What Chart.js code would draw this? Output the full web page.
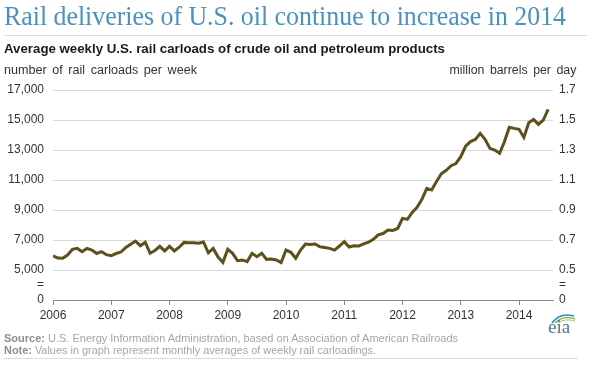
<!DOCTYPE html>
<html>
<head>
<meta charset="utf-8">
<script src="https://cdn.jsdelivr.net/npm/chart.js@4.4.1/dist/chart.umd.min.js"></script>
<style>
  html, body { margin: 0; padding: 0; background: #fff; }
  #wrap { position: relative; width: 598px; height: 376px; overflow: hidden; font-family: "Liberation Sans", Arial, sans-serif; }
  canvas { position: absolute; left: 0; top: 0; }
  .t { position: absolute; white-space: nowrap; line-height: 1; display: inline-block; transform-origin: left center; }
  #title { left: 4px; top: 3px; font-family: "Liberation Serif", "Times New Roman", serif; font-size: 26.5px; color: #4a92bd; }
  #subtitle { left: 4px; top: 43px; font-size: 12px; font-weight: bold; color: #1a1a1a; }
  #unitL { left: 4px; top: 64px; font-size: 12px; color: #333; word-spacing: 2px; }
  #unitR { right: 22px; top: 64px; font-size: 12px; color: #333; transform-origin: right center; word-spacing: 2px; }
  #source { left: 4px; top: 333px; font-size: 11px; color: #a5a5a5; }
  #note { left: 4px; top: 345px; font-size: 11px; color: #a5a5a5; }
  #source b, #note b { color: #8e8e8e; }
  .rule { position: absolute; height: 1px; background: #dcdcdc; }
  #logo { position: absolute; left: 546px; top: 311px; width: 32px; height: 24px; }
  #logoText { position: absolute; left: 2px; top: 6px; font-family: "Liberation Serif", serif; font-size: 19px; color: #4e7d98; line-height: 1; }
</style>
</head>
<body>
<div id="wrap">
  <canvas id="c" width="598" height="376"></canvas>
  <div class="t" id="title">Rail deliveries of U.S. oil continue to increase in 2014</div>
  <div class="rule" style="left:4px; top:35px; width:583px;"></div>
  <div class="t" id="subtitle">Average weekly U.S. rail carloads of crude oil and petroleum products</div>
  <div class="t" id="unitL">number of rail carloads per week</div>
  <div class="t" id="unitR">million barrels per day</div>
  <div class="t" id="source"><b>Source:</b> U.S. Energy Information Administration, based on Association of American Railroads</div>
  <div class="t" id="note"><b>Note:</b> Values in graph represent monthly averages of weekly rail carloadings.</div>
  <div class="rule" style="left:4px; top:358px; width:574px;"></div>
  <div id="logo">
    <svg width="32" height="14" style="position:absolute;left:0;top:0">
      <path d="M6 12 Q14 1 28 5" stroke="#2f8fc0" stroke-width="1.6" fill="none"/>
      <path d="M9 12 Q17 4 29 8" stroke="#7cb342" stroke-width="1.4" fill="none"/>
      <path d="M12 12 Q19 7 29 10" stroke="#9ccc65" stroke-width="1" fill="none"/>
    </svg>
    <div id="logoText">eia</div>
  </div>
</div>
<script>
// ---- Data (monthly averages of weekly rail carloads) ----
const years = [2006, 2007, 2008, 2009, 2010, 2011, 2012, 2013, 2014];
const carloads2006 = [5950, 5800, 5780, 6000, 6380, 6440, 6220, 6440, 6330, 6100, 6220, 6020];
const carloads2007 = [5960, 6100, 6200, 6500, 6720, 6930, 6620, 6850, 6120, 6300, 6580, 6270];
const carloads2008 = [6580, 6270, 6520, 6840, 6820, 6820, 6790, 6870, 6150, 6440, 5860, 5510];
const carloads2009 = [6380, 6110, 5620, 5670, 5560, 6110, 5890, 6110, 5710, 5730, 5670, 5490];
const carloads2010 = [6330, 6180, 5780, 6330, 6730, 6700, 6730, 6550, 6500, 6440, 6330, 6600];
const carloads2011 = [6890, 6530, 6620, 6600, 6740, 6850, 7040, 7340, 7430, 7660, 7640, 7770];
const carloads2012 = [8440, 8380, 8840, 9180, 9710, 10440, 10330, 10900, 11420, 11650, 11950, 12100];
const carloads2013 = [12550, 13250, 13560, 13700, 14110, 13710, 13110, 13000, 12780, 13560, 14510, 14440];
const carloads2014 = [14380, 13840, 14820, 15040, 14710, 15000, 15710];
const leftTickLabels  = ["17,000", "15,000", "13,000", "11,000", "9,000", "7,000", "5,000", "=", "0"];
const rightTickLabels = ["1.7", "1.5", "1.3", "1.1", "0.9", "0.7", "0.5", "=", "0"];
const tickValues = [17000, 15000, 13000, 11000, 9000, 7000, 5000, 4000, 3000];

const series = [carloads2006, carloads2007, carloads2008, carloads2009, carloads2010,
                carloads2011, carloads2012, carloads2013, carloads2014];
const points = [];
series.forEach((arr, yi) => arr.forEach((v, m) => points.push({ x: years[yi] + m / 12, y: v })));

function labelFor(list, v) {
  const i = tickValues.indexOf(v);
  return i >= 0 ? list[i] : "";
}

const tickFont = { family: "Liberation Sans, Arial, sans-serif", size: 12 };
const gridColor = (ctx) => {
  const v = ctx.tick && ctx.tick.value;
  return (v >= 5000 && (v / 1000) % 2 === 1) ? "#d9d9d9" : "rgba(0,0,0,0)";
};

new Chart(document.getElementById("c"), {
  type: "line",
  data: {
    datasets: [{
      data: points,
      borderColor: "#5c501b",
      borderWidth: 3,
      pointRadius: 0,
      tension: 0,
      fill: false,
      xAxisID: "x",
      yAxisID: "y"
    }]
  },
  options: {
    responsive: false,
    devicePixelRatio: 1,
    animation: false,
    layout: { padding: { top: 90, left: 0, right: 0, bottom: 0 } },
    plugins: { legend: { display: false }, tooltip: { enabled: false }, title: { display: false } },
    scales: {
      x: {
        type: "linear",
        position: "bottom",
        min: years[0],
        max: 2014 + 7 / 12,
        afterFit: (s) => { s.height = 76; },
        grid: { drawOnChartArea: false, drawTicks: true, tickLength: 5, color: "#8a8a8a" },
        border: { display: true, color: "#8a8a8a", width: 1 },
        ticks: {
          stepSize: 1,
          includeBounds: false,
          autoSkip: false,
          maxRotation: 0,
          padding: 3,
          color: "#333",
          font: tickFont,
          callback: (v) => (years.includes(v) ? String(v) : "")
        }
      },
      y: {
        position: "left",
        min: 3000,
        max: 17000,
        afterFit: (s) => { s.width = 53; },
        grid: { color: gridColor, drawTicks: false, lineWidth: 1 },
        border: { display: false },
        ticks: {
          stepSize: 1000,
          autoSkip: false,
          padding: 9,
          color: "#333",
          font: tickFont,
          callback: (v) => labelFor(leftTickLabels, v)
        }
      },
      y2: {
        position: "right",
        display: true,
        min: 3000,
        max: 17000,
        afterFit: (s) => { s.width = 45; },
        grid: { display: false, drawOnChartArea: false, drawTicks: false },
        border: { display: false },
        ticks: {
          stepSize: 1000,
          autoSkip: false,
          padding: 6,
          color: "#333",
          font: tickFont,
          callback: (v) => labelFor(rightTickLabels, v)
        }
      }
    }
  }
});

// Fit text widths to the reference layout
function fit(id, w) {
  const el = document.getElementById(id);
  const nat = el.getBoundingClientRect().width;
  if (nat > 0) el.style.transform = "scaleX(" + (w / nat) + ")";
}
fit("title", 562);
fit("subtitle", 441);
fit("unitL", 193);
fit("unitR", 127);
fit("source", 454);
fit("note", 372);
</script>
</body>
</html>
